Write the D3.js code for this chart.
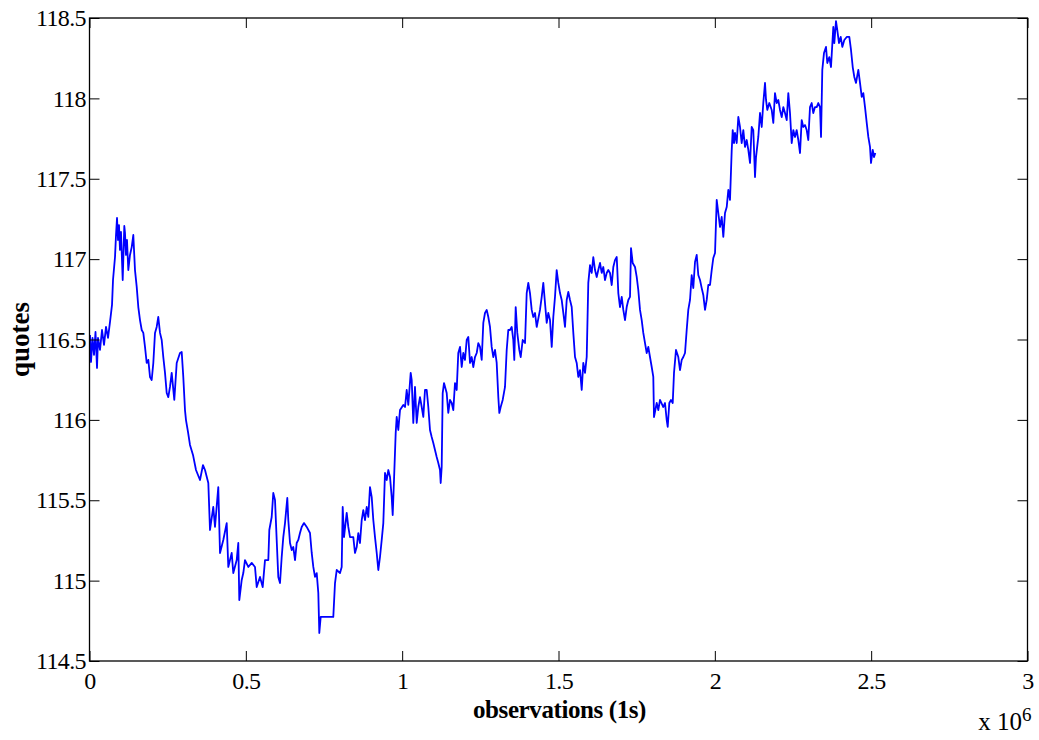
<!DOCTYPE html>
<html>
<head>
<meta charset="utf-8">
<script src="https://cdn.jsdelivr.net/npm/d3@7/dist/d3.min.js"></script>
<style>
  html, body { margin: 0; padding: 0; background: #fff; }
  svg { display: block; }
</style>
</head>
<body>
<svg id="chart" width="1039" height="740"></svg>
<script>
// observations, in millions (x 10^6)
const obsMillions = [
  0.0016,0.0048,0.0096,0.0144,0.0192,0.0240,0.0272,0.0336,0.0400,0.0464,
  0.0528,0.0592,0.0656,0.0720,0.0752,0.0816,0.0848,0.0880,0.0912,0.0943,
  0.0975,0.1007,0.1062,0.1113,0.1135,0.1167,0.1199,0.1241,0.1295,0.1350,
  0.1401,0.1455,0.1510,0.1561,0.1615,0.1670,0.1721,0.1775,0.1829,0.1881,
  0.1935,0.1989,0.2041,0.2095,0.2149,0.2200,0.2255,0.2309,0.2360,0.2415,
  0.2469,0.2520,0.2574,0.2629,0.2712,0.2789,0.2894,0.2949,0.3000,0.3054,
  0.3086,0.3150,0.3214,0.3310,0.3406,0.3534,0.3630,0.3694,0.3800,0.3854,
  0.3959,0.4014,0.4119,0.4174,0.4279,0.4388,0.4439,0.4548,0.4599,0.4708,
  0.4759,0.4791,0.4868,0.4919,0.4973,0.5079,0.5188,0.5293,0.5348,0.5453,
  0.5539,0.5613,0.5719,0.5751,0.5827,0.5878,0.5933,0.5987,0.6038,0.6093,
  0.6147,0.6198,0.6253,0.6326,0.6358,0.6413,0.6467,0.6518,0.6573,0.6627,
  0.6678,0.6732,0.6787,0.6860,0.6947,0.7052,0.7107,0.7158,0.7212,0.7267,
  0.7318,0.7350,0.7394,0.7478,0.7797,0.7852,0.7906,0.8012,0.8066,0.8098,
  0.8140,0.8226,0.8277,0.8332,0.8437,0.8491,0.8546,0.8597,0.8651,0.8706,
  0.8757,0.8811,0.8866,0.8917,0.8971,0.9026,0.9077,0.9131,0.9186,0.9237,
  0.9291,0.9346,0.9397,0.9451,0.9505,0.9557,0.9611,0.9665,0.9697,0.9739,
  0.9793,0.9825,0.9876,0.9931,1.0036,1.0091,1.0145,1.0196,1.0273,1.0305,
  1.0356,1.0410,1.0465,1.0516,1.0570,1.0625,1.0676,1.0730,1.0785,1.0836,
  1.0890,1.0944,1.0996,1.1050,1.1104,1.1156,1.1210,1.1232,1.1264,1.1296,
  1.1338,1.1424,1.1475,1.1530,1.1584,1.1635,1.1690,1.1744,1.1795,1.1850,
  1.1904,1.1955,1.2009,1.2064,1.2115,1.2170,1.2224,1.2275,1.2329,1.2384,
  1.2435,1.2489,1.2544,1.2595,1.2649,1.2704,1.2755,1.2809,1.2863,1.2915,
  1.2969,1.3023,1.3075,1.3107,1.3151,1.3215,1.3289,1.3343,1.3394,1.3449,
  1.3503,1.3554,1.3586,1.3631,1.3682,1.3746,1.3791,1.3855,1.3929,1.3983,
  1.4034,1.4088,1.4143,1.4194,1.4248,1.4303,1.4408,1.4463,1.4514,1.4568,
  1.4623,1.4674,1.4728,1.4783,1.4834,1.4888,1.4942,1.4994,1.5048,1.5102,
  1.5154,1.5208,1.5262,1.5314,1.5368,1.5422,1.5474,1.5528,1.5582,1.5633,
  1.5688,1.5742,1.5793,1.5848,1.5902,1.5953,1.6008,1.6062,1.6113,1.6168,
  1.6222,1.6273,1.6328,1.6382,1.6433,1.6487,1.6542,1.6593,1.6647,1.6702,
  1.6753,1.6807,1.6862,1.6881,1.6913,1.6967,1.7022,1.7073,1.7127,1.7181,
  1.7233,1.7287,1.7319,1.7373,1.7447,1.7501,1.7552,1.7607,1.7661,1.7712,
  1.7767,1.7821,1.7872,1.7926,1.7981,1.8032,1.8054,1.8141,1.8192,1.8246,
  1.8352,1.8406,1.8461,1.8493,1.8544,1.8598,1.8653,1.8694,1.8758,1.8832,
  1.8886,1.8941,1.8992,1.9046,1.9100,1.9151,1.9206,1.9260,1.9311,1.9366,
  1.9420,1.9471,1.9526,1.9580,1.9631,1.9686,1.9740,1.9791,1.9846,1.9900,
  1.9951,2.0006,2.0060,2.0111,2.0165,2.0220,2.0271,2.0325,2.0380,2.0431,
  2.0485,2.0540,2.0572,2.0613,2.0645,2.0699,2.0751,2.0805,2.0859,2.0911,
  2.0965,2.1019,2.1071,2.1125,2.1179,2.1230,2.1285,2.1317,2.1390,2.1445,
  2.1499,2.1550,2.1605,2.1637,2.1678,2.1742,2.1819,2.1870,2.1924,2.1979,
  2.2030,2.2084,2.2139,2.2190,2.2244,2.2299,2.2350,2.2404,2.2458,2.2510,
  2.2564,2.2618,2.2670,2.2724,2.2778,2.2829,2.2884,2.2938,2.2989,2.3044,
  2.3098,2.3149,2.3204,2.3258,2.3309,2.3364,2.3396,2.3437,2.3491,2.3555,
  2.3597,2.3661,2.3715,2.3789,2.3821,2.3875,2.3917,2.3971,2.4026,2.4077,
  2.4141,2.4218,2.4301,2.4355,2.4410,2.4461,2.4515,2.4589,2.4643,2.4698,
  2.4749,2.4803,2.4858,2.4909,2.4963,2.4995,2.5050,2.5091,2.5133
];

const quotes = [
  116.528,116.360,116.510,116.404,116.547,116.323,116.510,116.435,116.559,116.466,
  116.578,116.510,116.609,116.715,116.870,117.013,117.150,117.256,117.119,117.212,
  117.057,117.169,116.870,117.206,117.163,117.026,117.119,116.932,117.026,117.075,
  117.150,116.932,116.827,116.702,116.621,116.559,116.541,116.454,116.354,116.373,
  116.267,116.248,116.354,116.541,116.578,116.640,116.541,116.497,116.391,116.292,
  116.167,116.142,116.205,116.292,116.124,116.354,116.416,116.422,116.267,116.061,
  115.999,115.925,115.844,115.782,115.688,115.626,115.719,115.688,115.607,115.315,
  115.458,115.334,115.582,115.172,115.253,115.358,115.085,115.172,115.047,115.128,
  115.234,114.879,115.004,115.047,115.128,115.085,115.110,115.085,114.960,115.023,
  114.960,115.128,115.128,115.315,115.396,115.545,115.502,115.253,115.023,114.985,
  115.147,115.271,115.358,115.514,115.377,115.234,115.190,115.209,115.128,115.234,
  115.253,115.296,115.334,115.358,115.334,115.296,115.172,115.085,115.023,115.047,
  114.923,114.674,114.774,114.774,114.774,114.985,115.066,115.047,115.085,115.458,
  115.271,115.421,115.334,115.271,115.271,115.172,115.209,115.296,115.234,115.377,
  115.439,115.377,115.458,115.396,115.582,115.520,115.377,115.271,115.172,115.066,
  115.147,115.253,115.358,115.670,115.626,115.688,115.645,115.520,115.408,115.626,
  115.918,116.018,115.937,116.061,116.093,116.080,116.186,116.093,116.292,116.248,
  115.981,116.205,115.981,116.080,116.142,116.080,116.018,116.186,116.186,116.080,
  115.937,115.893,115.856,115.813,115.769,115.732,115.688,115.607,115.707,116.167,
  116.229,116.167,116.043,116.124,116.105,116.061,116.229,116.186,116.416,116.454,
  116.329,116.416,116.373,116.497,116.516,116.354,116.391,116.329,116.391,116.416,
  116.478,116.454,116.373,116.603,116.665,116.684,116.640,116.578,116.454,116.391,
  116.435,116.354,116.142,116.043,116.080,116.124,116.205,116.435,116.559,116.559,
  116.578,116.497,116.373,116.702,116.541,116.435,116.391,116.497,116.478,116.789,
  116.852,116.789,116.684,116.640,116.665,116.578,116.684,116.765,116.852,116.727,
  116.603,116.665,116.621,116.454,116.640,116.765,116.932,116.852,116.789,116.746,
  116.665,116.578,116.746,116.796,116.746,116.702,116.541,116.391,116.354,116.267,
  116.310,116.186,116.354,116.292,116.391,116.852,116.963,116.914,117.013,116.932,
  116.889,116.932,116.976,116.914,116.951,116.870,116.914,116.932,116.914,116.839,
  116.951,116.994,117.013,116.932,116.789,116.702,116.765,116.684,116.621,116.702,
  116.746,116.765,117.069,116.976,116.951,116.889,116.808,116.684,116.621,116.541,
  116.478,116.416,116.454,116.391,116.329,116.267,116.018,116.105,116.061,116.124,
  116.080,116.105,115.999,115.956,116.105,116.124,116.105,116.292,116.435,116.391,
  116.310,116.373,116.391,116.416,116.559,116.684,116.746,116.901,116.820,116.982,
  117.026,116.901,116.870,116.820,116.777,116.684,116.746,116.839,116.839,116.932,
  117.007,117.038,117.368,117.287,117.200,117.262,117.138,117.287,117.324,117.430,
  117.368,117.679,117.803,117.722,117.785,117.722,117.884,117.822,117.722,117.803,
  117.698,117.741,117.679,117.598,117.822,117.803,117.511,117.635,117.760,117.909,
  117.822,117.971,118.096,117.990,117.928,117.971,117.928,117.847,118.033,117.971,
  117.990,117.928,117.884,117.946,117.909,117.865,118.033,117.909,117.722,117.803,
  117.760,117.803,117.741,117.660,117.865,117.822,117.834,117.803,117.741,117.946,
  117.971,117.909,117.946,117.946,117.971,117.946,117.760,118.177,118.282,118.320,
  118.220,118.257,118.195,118.444,118.344,118.481,118.425,118.344,118.382,118.320,
  118.363,118.382,118.382,118.301,118.195,118.133,118.096,118.177,118.096,118.009,
  118.033,117.946,117.847,117.760,117.698,117.598,117.679,117.635,117.660
];

const xTicks = [0, 0.5, 1, 1.5, 2, 2.5, 3];
const yTicks = [114.5, 115, 115.5, 116, 116.5, 117, 117.5, 118, 118.5];
const xLabel = "observations (1s)";
const yLabel = "quotes";
const xExponentBase = "x 10";
const xExponent = "6";

const serif = "'Liberation Serif', 'Times New Roman', serif";
const svg = d3.select("#chart");
const plotLeft = 89.5, plotRight = 1027.5, plotTop = 18, plotBottom = 661;

const x = d3.scaleLinear().domain([0, 3]).range([plotLeft, plotRight]);
const y = d3.scaleLinear().domain([114.5, 118.5]).range([plotBottom, plotTop]);

const series = obsMillions.map((o, i) => ({ o, q: quotes[i] }));

const line = d3.line().x(d => x(d.o)).y(d => y(d.q));

svg.append("rect").attr("width", 1039).attr("height", 740).attr("fill", "#fff");

svg.append("path")
  .datum(series)
  .attr("fill", "none")
  .attr("stroke", "#0000ff")
  .attr("stroke-width", 1.8)
  .attr("stroke-linejoin", "round")
  .attr("d", line);

const fmt = d3.format("~g");
const tickLen = 10;

function styleAxis(g) {
  g.style("font-family", serif);
  g.select(".domain").remove();
  g.selectAll(".tick line").attr("stroke", "#000").attr("stroke-width", 1);
  g.selectAll(".tick text")
    .style("font-family", serif)
    .style("font-size", "24px")
    .style("letter-spacing", "-0.6px")
    .attr("fill", "#000");
}

svg.append("g").attr("transform", `translate(0,${plotBottom})`)
  .call(d3.axisBottom(x).tickValues(xTicks).tickFormat(fmt).tickSizeInner(-tickLen).tickSizeOuter(0).tickPadding(11))
  .call(styleAxis);

svg.append("g").attr("transform", `translate(0,${plotTop})`)
  .call(d3.axisTop(x).tickValues(xTicks).tickFormat("").tickSizeInner(-tickLen).tickSizeOuter(0))
  .call(styleAxis);

svg.append("g").attr("transform", `translate(${plotLeft},0)`)
  .call(d3.axisLeft(y).tickValues(yTicks).tickFormat(fmt).tickSizeInner(-tickLen).tickSizeOuter(0).tickPadding(3.5))
  .call(styleAxis);

svg.append("g").attr("transform", `translate(${plotRight},0)`)
  .call(d3.axisRight(y).tickValues(yTicks).tickFormat("").tickSizeInner(-tickLen).tickSizeOuter(0))
  .call(styleAxis);

svg.append("rect")
  .attr("x", plotLeft).attr("y", plotTop)
  .attr("width", plotRight - plotLeft).attr("height", plotBottom - plotTop)
  .attr("fill", "none").attr("stroke", "#000").attr("stroke-width", 1.3);

svg.append("text")
  .attr("x", (plotLeft + plotRight) / 2 + 1).attr("y", 718)
  .attr("text-anchor", "middle")
  .style("font-family", serif)
  .style("font-size", "25px").style("font-weight", "bold")
  .style("letter-spacing", "-0.4px")
  .text(xLabel);

svg.append("text")
  .attr("transform", `translate(29,${(plotTop + plotBottom) / 2}) rotate(-90)`)
  .attr("text-anchor", "middle")
  .style("font-family", serif)
  .style("font-size", "27px").style("font-weight", "bold")
  .text(yLabel);

svg.append("text")
  .attr("x", 1022).attr("y", 730)
  .attr("text-anchor", "end")
  .style("font-family", serif)
  .style("font-size", "25px")
  .text(xExponentBase);
svg.append("text")
  .attr("x", 1022).attr("y", 721)
  .style("font-family", serif)
  .style("font-size", "19px")
  .text(xExponent);
</script>
</body>
</html>
